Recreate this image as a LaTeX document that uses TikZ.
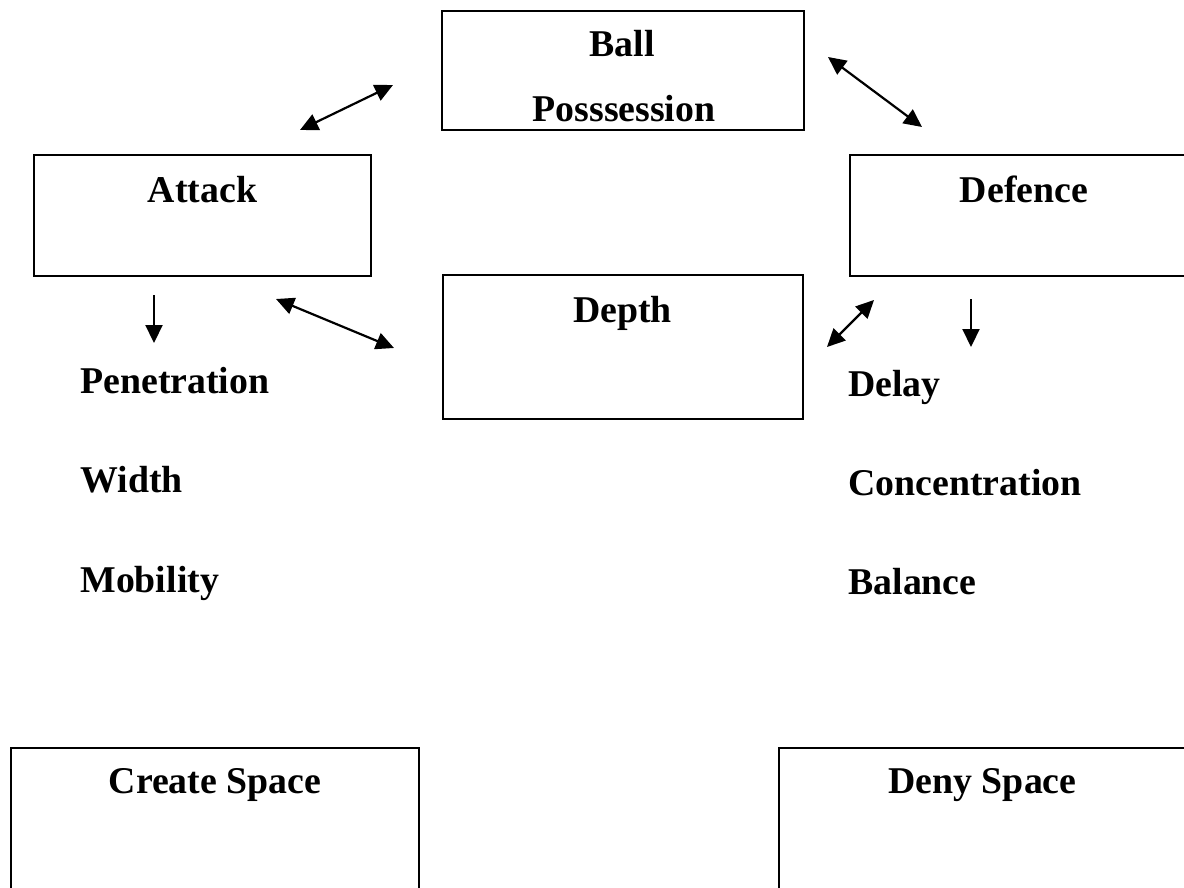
\documentclass[tikz,border=0pt]{standalone}
\usepackage{fontspec}
\setmainfont{Liberation Serif}
\usetikzlibrary{arrows.meta}
\begin{document}
\begin{tikzpicture}[x=0.5pt,y=-0.5pt,
    box/.style={draw,line width=1.2pt,inner sep=0pt},
    word/.style={font=\bfseries\fontsize{18.9pt}{22pt}\selectfont,inner sep=0pt},
    dbl/.style={line width=1.1pt,{Triangle[length=9pt,width=8.5pt]}-{Triangle[length=9pt,width=8.5pt]}},
    down/.style={line width=1.1pt,-{Triangle[length=9pt,width=8.5pt]}}]
  \clip (0,0) rectangle (1184,888);

  % boxes
  \node[box,minimum width=181pt,minimum height=59.5pt] (poss) at (623,70.5) {};
  \node[box,minimum width=168.5pt,minimum height=60.5pt] (att) at (202.5,215.5) {};
  \node[box,minimum width=168.5pt,minimum height=60.5pt] (def) at (1018.5,215.5) {};
  \node[box,minimum width=180pt,minimum height=72pt] (dep) at (623,347) {};
  \node[box,minimum width=204pt,minimum height=76pt] (create) at (215,824) {};
  \node[box,minimum width=203.5pt,minimum height=76pt] (deny) at (982.5,824) {};

  % box texts
  \node[word,anchor=base] (ball) at (622,57) {Ball};
  \node[word,anchor=base] (possT) at (624,122) {Posssession};
  \node[word,anchor=base] (attT) at (202.5,202) {Attack};
  \node[word,anchor=base] (defT) at (1024,202) {Defence};
  \node[word,anchor=base] (depT) at (622.5,322) {Depth};
  \node[word,anchor=base] (createT) at (215,793) {Create Space};
  \node[word,anchor=base] (denyT) at (982.5,793) {Deny Space};

  % principles
  \node[word,anchor=base west] (pen) at (80,393) {Penetration};
  \node[word,anchor=base west] (wid) at (80,492) {Width};
  \node[word,anchor=base west] (mob) at (80,592) {Mobility};
  \node[word,anchor=base west] (del) at (848,396) {Delay};
  \node[word,anchor=base west] (con) at (848,495) {Concentration};
  \node[word,anchor=base west] (bal) at (848,594) {Balance};

  % arrow ends
  \coordinate (a1) at (393,85);   \coordinate (a2) at (300,130);
  \coordinate (b1) at (828,57);   \coordinate (b2) at (922,127);
  \coordinate (c1) at (276,299);  \coordinate (c2) at (394,348);
  \coordinate (e1) at (874,300);  \coordinate (e2) at (827,347);
  \coordinate (f1) at (154,295);  \coordinate (f2) at (154,343);
  \coordinate (g1) at (971,299);  \coordinate (g2) at (971,347);

  % arrows
  \draw[dbl] (a1) -- (a2);
  \draw[dbl] (b1) -- (b2);
  \draw[dbl] (c1) -- (c2);
  \draw[dbl] (e1) -- (e2);
  \draw[down] (f1) -- (f2);
  \draw[down] (g1) -- (g2);
\end{tikzpicture}
\end{document}
